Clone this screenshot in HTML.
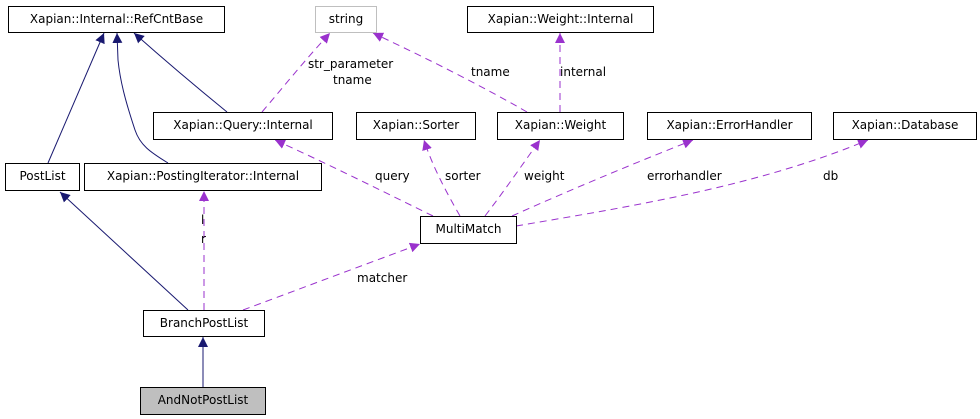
<!DOCTYPE html>
<html><head><meta charset="utf-8"><style>
html,body{margin:0;padding:0;background:#fff;}
#c{position:relative;width:980px;height:419px;overflow:hidden;font-family:"DejaVu Sans","Liberation Sans",sans-serif;font-size:12px;color:#000;}
.b{position:absolute;box-sizing:border-box;border:1px solid #000;background:#fff;text-align:center;line-height:25px;white-space:nowrap;}
svg{position:absolute;left:0;top:0;}
svg text{font-family:"DejaVu Sans","Liberation Sans",sans-serif;font-size:12px;}
</style></head><body><div id="c">
<svg width="980" height="419">
<defs>
<marker id="n" viewBox="0 0 10 10" refX="10" refY="5" markerWidth="10" markerHeight="10" markerUnits="userSpaceOnUse" orient="auto"><path d="M0,0 L10,5 L0,10 z" fill="#191970"/></marker>
<marker id="p" viewBox="0 0 10 10" refX="10" refY="5" markerWidth="10" markerHeight="10" markerUnits="userSpaceOnUse" orient="auto"><path d="M0,0 L10,5 L0,10 z" fill="#9a32cd"/></marker>
</defs>
<g fill="none" stroke="#191970" stroke-width="1">
<path d="M48,163 L104,33" marker-end="url(#n)"/>
<path d="M168,163 C150,152 140,145 135,130 C125,100 120,80 118,60 L117,33" marker-end="url(#n)"/>
<path d="M227,112 C200,90 170,65 134,33" marker-end="url(#n)"/>
<path d="M188,310 L60,192" marker-end="url(#n)"/>
<path d="M203,387 L203,337" marker-end="url(#n)"/>
</g>
<g fill="none" stroke="#9a32cd" stroke-width="1" stroke-dasharray="7,5">
<path d="M204,310 L204,191" marker-end="url(#p)"/>
<path d="M243,310 L420,244" marker-end="url(#p)"/>
<path d="M433,216 C380,190 330,165 275,140" marker-end="url(#p)"/>
<path d="M460,216 C445,190 432,165 424,140" marker-end="url(#p)"/>
<path d="M485,216 C505,190 522,165 540,140" marker-end="url(#p)"/>
<path d="M512,216 C570,190 630,165 693,140" marker-end="url(#p)"/>
<path d="M516,226 C640,205 760,185 868,140" marker-end="url(#p)"/>
<path d="M262,112 C285,85 305,60 330,33" marker-end="url(#p)"/>
<path d="M527,112 C480,85 430,60 373,33" marker-end="url(#p)"/>
<path d="M560,112 L560,33" marker-end="url(#p)"/>
</g>
<g fill="#000">
<text x="201" y="224">l</text>
<text x="201" y="243">r</text>
<text x="357" y="282">matcher</text>
<text x="375" y="180">query</text>
<text x="445" y="180">sorter</text>
<text x="524" y="180">weight</text>
<text x="647" y="180">errorhandler</text>
<text x="823" y="180">db</text>
<text x="308" y="68">str_parameter</text>
<text x="333" y="84">tname</text>
<text x="471" y="76">tname</text>
<text x="560" y="76">internal</text>
</g>
</svg>
<div class="b" style="left:8px;top:6px;width:217px;height:27px;">Xapian::Internal::RefCntBase</div>
<div class="b" style="left:315px;top:6px;width:62px;height:27px;border-color:#bfbfbf;">string</div>
<div class="b" style="left:467px;top:6px;width:187px;height:27px;">Xapian::Weight::Internal</div>
<div class="b" style="left:153px;top:112px;width:180px;height:28px;">Xapian::Query::Internal</div>
<div class="b" style="left:356px;top:112px;width:120px;height:28px;">Xapian::Sorter</div>
<div class="b" style="left:497px;top:112px;width:127px;height:28px;">Xapian::Weight</div>
<div class="b" style="left:647px;top:112px;width:165px;height:28px;">Xapian::ErrorHandler</div>
<div class="b" style="left:833px;top:112px;width:144px;height:28px;">Xapian::Database</div>
<div class="b" style="left:5px;top:163px;width:75px;height:28px;">PostList</div>
<div class="b" style="left:84px;top:163px;width:238px;height:28px;">Xapian::PostingIterator::Internal</div>
<div class="b" style="left:420px;top:216px;width:97px;height:28px;">MultiMatch</div>
<div class="b" style="left:143px;top:310px;width:122px;height:27px;">BranchPostList</div>
<div class="b" style="left:140px;top:387px;width:126px;height:28px;background:#bfbfbf;">AndNotPostList</div>
</div></body></html>
